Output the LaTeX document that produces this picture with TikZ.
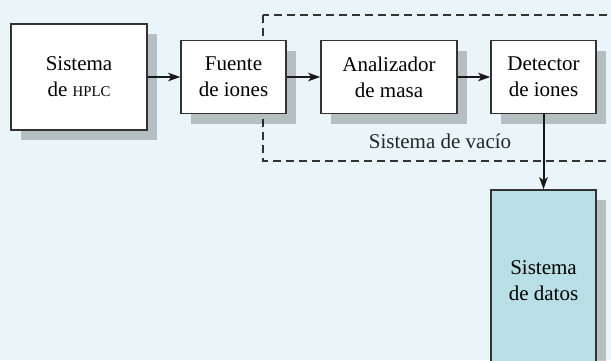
\documentclass[tikz,border=0pt]{standalone}
\usepackage{fontspec}
\setmainfont{Liberation Serif}
\usepackage{tikz}
\usetikzlibrary{arrows.meta,shadows}
\definecolor{bgblue}{HTML}{E9F5F8}
\definecolor{datablue}{HTML}{B9DFE6}
\definecolor{edgegray}{HTML}{333333}

\begin{document}
\begin{tikzpicture}[
  x=0.5pt, y=-0.5pt,
  box/.style={draw=edgegray, line width=0.75pt, fill=white, align=center, inner sep=0pt, font=\fontsize{10.5}{13}\selectfont,
    drop shadow={shadow xshift=5pt, shadow yshift=-5pt, fill=black, opacity=0.22}},
  wide/.style={minimum width=68pt},
  narrow/.style={minimum width=52.5pt},
  arrow/.style={-{Stealth[length=6pt, width=4.2pt, inset=1.5pt]}, line width=1pt, draw=black!90}
]
\fill[bgblue] (0,0) rectangle (611,360);
\useasboundingbox (0,0) rectangle (611,360);
\clip (0,0) rectangle (611,360);

\draw[edgegray, line width=0.65pt, dash pattern=on 4pt off 2.5pt] (263,15) rectangle (640,161);

\node[box, wide, minimum height=53pt] (hplc) at (79,77) {Sistema\\de {\fontsize{7.4}{13}\selectfont HPLC}};
\node[box, narrow, minimum height=36.5pt] (fuente) at (233.5,77) {Fuente\\de iones};
\node[box, wide, minimum height=36.5pt] (analizador) at (389,77) {Analizador\\de masa};
\node[box, narrow, minimum height=36.5pt] (detector) at (543.5,77) {Detector\\de iones};
\node[box, narrow, minimum height=91pt, fill=datablue] (datos) at (543.5,281) {Sistema\\de datos};

\node[font=\fontsize{10.5}{13}\selectfont, text=black!85] (vacio) at (440,141) {Sistema de vacío};

\draw[arrow] (hplc) -- (fuente);
\draw[arrow] (fuente) -- (analizador);
\draw[arrow] (analizador) -- (detector);
\draw[arrow] (detector) -- (datos);
\end{tikzpicture}
\end{document}
